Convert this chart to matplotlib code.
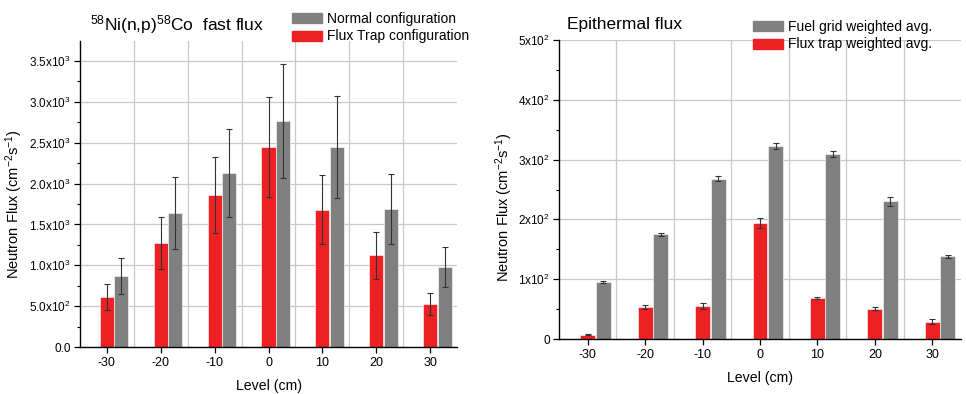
import numpy as np
import matplotlib
matplotlib.use("Agg")
import matplotlib.pyplot as plt
from matplotlib.ticker import FuncFormatter, MultipleLocator, FixedLocator

plt.rcParams['font.family'] = ['Liberation Sans', 'DejaVu Sans']
plt.rcParams['mathtext.fontset'] = 'custom'
plt.rcParams['mathtext.rm'] = 'Liberation Sans'
plt.rcParams['mathtext.it'] = 'Liberation Sans:italic'
plt.rcParams['mathtext.default'] = 'regular'

levels = ["-30", "-20", "-10", "0", "10", "20", "30"]

# fast flux (58Ni(n,p)58Co)
fast_trap = [610, 1270, 1860, 2450, 1680, 1120, 525]
fast_trap_err = [160, 320, 470, 615, 425, 285, 137]
fast_normal = [865, 1640, 2125, 2765, 2450, 1690, 975]
fast_normal_err = [220, 435, 540, 695, 625, 430, 245]

# epithermal flux
epi_trap = [7, 54, 55, 194, 69, 51, 29]
epi_trap_err = [1, 3, 5, 8, 2, 2, 4]
epi_fuel = [95, 175, 268, 322, 309, 230, 138]
epi_fuel_err = [2, 3, 4, 5, 5, 7, 2]

RED = '#ed2024'
GRAY = '#808080'
W = 966 / 100
H = 394 / 100

fig = plt.figure(figsize=(W, H), dpi=100)


def fmt_fast(v, pos):
    if v == 0:
        return '0.0'
    if v < 1000:
        return '%.1fx10$^2$' % (v / 100)
    return '%.1fx10$^3$' % (v / 1000)


def fmt_epi(v, pos):
    if v == 0:
        return '0'
    return '%dx10$^2$' % round(v / 100)


def draw(ax, red, red_err, gray, gray_err, ymax, major, minor, fmt):
    x = np.arange(len(levels))
    ekw = dict(ecolor='#333333', elinewidth=0.8, capsize=2.5, capthick=0.8)
    ax.bar(x, red, 0.26, yerr=red_err, color=RED, edgecolor='white',
           linewidth=0.4, error_kw=ekw, zorder=3)
    ax.bar(x + 0.27, gray, 0.26, yerr=gray_err, color=GRAY, edgecolor='white',
           linewidth=0.4, error_kw=ekw, zorder=3)
    ax.set_xlim(-0.5, 6.5)
    ax.set_ylim(0, ymax)
    ax.set_xticks(x)
    ax.set_xticklabels(levels, fontsize=9)
    ax.xaxis.set_minor_locator(FixedLocator(x[:-1] + 0.5))
    ax.yaxis.set_major_locator(MultipleLocator(major))
    ax.yaxis.set_minor_locator(MultipleLocator(minor))
    ax.yaxis.set_major_formatter(FuncFormatter(fmt))
    ax.tick_params(axis='y', which='major', labelsize=8.5, length=4, width=0.9, pad=2.5)
    ax.tick_params(axis='y', which='minor', length=2.5, width=0.8)
    ax.tick_params(axis='x', which='major', length=4, width=0.9)
    ax.tick_params(axis='x', which='minor', length=0)
    ax.grid(axis='x', which='minor', color='#c8c8c8', linewidth=0.9, zorder=0)
    ax.grid(axis='y', which='major', color='#c8c8c8', linewidth=0.9, zorder=0)
    for s in ['top', 'right']:
        ax.spines[s].set_visible(False)
    for s in ['left', 'bottom']:
        ax.spines[s].set_linewidth(1.0)
        ax.spines[s].set_zorder(4)
    ax.set_xlabel('Level (cm)', fontsize=10.2, labelpad=7)
    ax.set_ylabel('Neutron Flux (cm$^{-2}$s$^{-1}$)', fontsize=10.5)
    ax.set_axisbelow(True)


ax1 = fig.add_axes([80 / 966, 1 - 347 / 394, 377 / 966, 306 / 394])
draw(ax1, fast_trap, fast_trap_err, fast_normal, fast_normal_err,
     3745, 500, 250, fmt_fast)
ax1.yaxis.set_label_coords(-0.146, 0.467)
h1 = [plt.Rectangle((0, 0), 1, 1, color=GRAY), plt.Rectangle((0, 0), 1, 1, color=RED)]
fig.legend(h1, ['Normal configuration', 'Flux Trap configuration'],
           loc='upper left', bbox_to_anchor=(292 / 966, 1 - 12 / 394),
           frameon=False, fontsize=10, handlelength=2.15, handleheight=0.75,
           handletextpad=0.4, labelspacing=0.25, borderpad=0, borderaxespad=0)
fig.text(90 / 966, 1 - 25 / 394, '$^{58}$Ni(n,p)$^{58}$Co  fast flux',
         fontsize=12.5, va='center', ha='left')

ax2 = fig.add_axes([559 / 966, 1 - 339 / 394, 402 / 966, 299 / 394])
draw(ax2, epi_trap, epi_trap_err, epi_fuel, epi_fuel_err,
     500, 100, 50, fmt_epi)
ax2.yaxis.set_label_coords(-0.109, 0.441)
h2 = [plt.Rectangle((0, 0), 1, 1, color=GRAY), plt.Rectangle((0, 0), 1, 1, color=RED)]
fig.legend(h2, ['Fuel grid weighted avg.', 'Flux trap weighted avg.'],
           loc='upper left', bbox_to_anchor=(753 / 966, 1 - 20 / 394),
           frameon=False, fontsize=10, handlelength=2.15, handleheight=0.75,
           handletextpad=0.4, labelspacing=0.25, borderpad=0, borderaxespad=0)
fig.text(567 / 966, 1 - 25 / 394, 'Epithermal flux',
         fontsize=12.5, va='center', ha='left')

fig.savefig('out.png', dpi=100)
